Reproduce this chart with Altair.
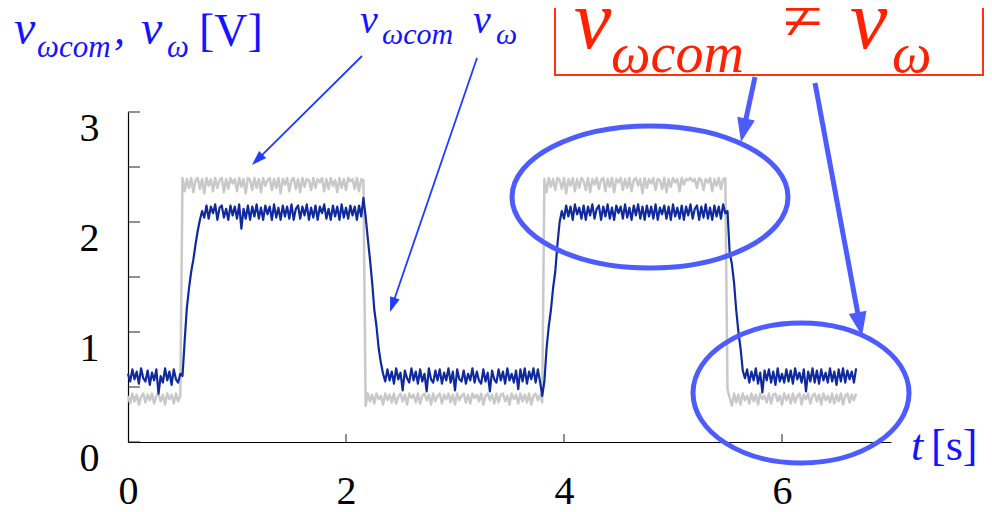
import math
import altair as alt
import pandas as pd

# ---------------- data ----------------
DT = 0.02  # sampling step of the recorded signals [s]

# command voltage v_wcom (gray)
gray_low_1 = [0.42, 0.35, 0.44, 0.37, 0.43, 0.34, 0.41, 0.44, 0.36, 0.43,
              0.38, 0.44, 0.35, 0.42, 0.44, 0.37, 0.43, 0.34, 0.44, 0.39,
              0.43, 0.35, 0.44, 0.37, 0.42]
gray_high_1 = [2.40, 2.28, 2.39, 2.31, 2.40, 2.27, 2.38, 2.40, 2.30, 2.39,
               2.26, 2.40, 2.33, 2.39, 2.28, 2.40, 2.31, 2.38, 2.40, 2.27,
               2.39, 2.30, 2.40, 2.35, 2.39, 2.28, 2.40, 2.32, 2.39, 2.26,
               2.40, 2.38, 2.29, 2.40, 2.31, 2.39, 2.27, 2.40, 2.33, 2.38,
               2.40, 2.29, 2.39, 2.31, 2.40, 2.26, 2.39, 2.34, 2.40, 2.28,
               2.38, 2.40, 2.30, 2.39, 2.27, 2.40, 2.32, 2.39, 2.38, 2.29,
               2.40, 2.31, 2.39, 2.36, 2.40, 2.28, 2.39, 2.30, 2.40, 2.33,
               2.38, 2.27, 2.40, 2.31, 2.39, 2.29, 2.40, 2.37, 2.39, 2.30,
               2.40, 2.28, 2.39, 2.38]
gray_low_2 = [0.33, 0.44, 0.37, 0.43, 0.35, 0.44, 0.39, 0.42, 0.34, 0.44,
              0.38, 0.43, 0.36, 0.44, 0.35, 0.41, 0.44, 0.37, 0.43, 0.34,
              0.44, 0.40, 0.43, 0.36, 0.44, 0.35, 0.42, 0.44, 0.38, 0.43,
              0.34, 0.44, 0.37, 0.42, 0.44, 0.35, 0.43, 0.39, 0.44, 0.36,
              0.43, 0.34, 0.44, 0.38, 0.42, 0.44, 0.36, 0.43, 0.35, 0.44,
              0.40, 0.43, 0.37, 0.44, 0.34, 0.42, 0.44, 0.38, 0.43, 0.35,
              0.44, 0.36, 0.43, 0.44, 0.37, 0.42, 0.34, 0.44, 0.39, 0.43,
              0.35, 0.44, 0.37, 0.43, 0.36, 0.44, 0.34, 0.42, 0.44, 0.38,
              0.43, 0.36]
gray_high_2 = [2.39, 2.27, 2.40, 2.32, 2.39, 2.29, 2.40, 2.38, 2.30, 2.40,
               2.26, 2.39, 2.33, 2.40, 2.28, 2.39, 2.31, 2.40, 2.37, 2.29,
               2.40, 2.27, 2.39, 2.34, 2.40, 2.30, 2.38, 2.40, 2.28, 2.39,
               2.32, 2.40, 2.27, 2.39, 2.36, 2.40, 2.29, 2.39, 2.31, 2.40,
               2.28, 2.38, 2.40, 2.33, 2.39, 2.26, 2.40, 2.31, 2.39, 2.35,
               2.40, 2.29, 2.39, 2.38, 2.30, 2.40, 2.27, 2.39, 2.32, 2.40,
               2.36, 2.39, 2.28, 2.40, 2.34, 2.39, 2.38, 2.40, 2.37, 2.39,
               2.31, 2.40, 2.38, 2.29, 2.39, 2.36, 2.40, 2.28, 2.39, 2.33,
               2.40, 2.30, 2.39, 2.40]
gray_low_3 = [0.48, 0.40, 0.33, 0.44, 0.36, 0.43, 0.34, 0.44, 0.38, 0.42,
              0.35, 0.44, 0.37, 0.43, 0.34, 0.44, 0.39, 0.42, 0.36, 0.44,
              0.35, 0.43, 0.44, 0.37, 0.42, 0.34, 0.44, 0.38, 0.43, 0.35,
              0.44, 0.36, 0.42, 0.44, 0.34, 0.43, 0.39, 0.44, 0.35, 0.42,
              0.44, 0.37, 0.43, 0.34, 0.44, 0.38, 0.42, 0.36, 0.44, 0.35,
              0.43, 0.37, 0.44, 0.34, 0.42, 0.44, 0.36, 0.43, 0.38, 0.44]

# measured voltage v_w (dark blue)
blue_low_1 = [0.62, 0.55, 0.66, 0.57, 0.64, 0.53, 0.67, 0.58, 0.55, 0.65,
              0.52, 0.63, 0.56, 0.66, 0.44, 0.60, 0.54, 0.67, 0.56, 0.64,
              0.52, 0.66, 0.57, 0.54, 0.62]
blue_rise_1 = [0.60, 0.92, 1.22, 1.40, 1.55, 1.66, 1.80, 1.92, 2.02, 2.10]
blue_high_1 = [2.04, 2.15, 2.03, 2.14, 2.08, 2.16, 2.02, 2.13, 2.15, 2.04,
               2.12, 2.02, 2.15, 2.06, 2.14, 2.03, 2.16, 1.94, 2.12, 2.03,
               2.15, 2.02, 2.14, 2.05, 2.16, 2.03, 2.13, 2.02, 2.15, 2.07,
               2.14, 2.02, 2.16, 2.04, 2.13, 2.02, 2.15, 2.05, 2.14, 2.03,
               2.16, 2.02, 2.12, 2.15, 2.03, 2.14, 2.06, 2.16, 2.02, 2.13,
               2.04, 2.15, 2.02, 2.14, 2.08, 2.16, 2.03, 2.12, 2.02, 2.15,
               2.05, 2.14, 2.02, 2.16, 2.04, 2.13, 2.03, 2.15, 2.06, 2.14,
               2.02, 2.15, 2.05, 2.22]
blue_fall_1 = [2.05, 1.85, 1.66, 1.45, 1.20, 1.05, 0.85, 0.72, 0.62]
blue_low_2 = [0.55, 0.66, 0.56, 0.64, 0.53, 0.67, 0.57, 0.63, 0.47, 0.65,
              0.58, 0.54, 0.67, 0.56, 0.64, 0.53, 0.66, 0.55, 0.62, 0.46,
              0.67, 0.57, 0.54, 0.65, 0.56, 0.66, 0.53, 0.63, 0.56, 0.67,
              0.54, 0.64, 0.47, 0.66, 0.57, 0.55, 0.65, 0.53, 0.62, 0.56,
              0.67, 0.54, 0.64, 0.56, 0.53, 0.66, 0.55, 0.63, 0.46, 0.65,
              0.57, 0.54, 0.66, 0.56, 0.64, 0.53, 0.67, 0.56, 0.62, 0.54,
              0.65, 0.48, 0.66, 0.55, 0.67, 0.53, 0.64, 0.57, 0.67, 0.54,
              0.66, 0.55, 0.42]
blue_rise_2 = [0.55, 0.85, 1.05, 1.20, 1.40, 1.55, 1.80, 2.00, 2.10]
blue_high_2 = [2.03, 2.15, 2.05, 2.14, 2.02, 2.16, 2.07, 2.13, 2.03, 2.15,
               2.02, 2.14, 2.06, 2.16, 2.03, 2.12, 2.15, 2.02, 2.14, 2.05,
               2.16, 2.03, 2.13, 2.02, 2.15, 2.08, 2.14, 2.03, 2.16, 2.04,
               2.13, 2.02, 2.15, 2.06, 2.16, 2.03, 2.14, 2.02, 2.15, 2.05,
               2.14, 2.03, 2.16, 2.02, 2.13, 2.07, 2.15, 2.03, 2.14, 2.02,
               2.16, 2.05, 2.13, 2.03, 2.15, 2.02, 2.14, 2.06, 2.16, 2.03,
               2.12, 2.15, 2.02, 2.14, 2.04, 2.16, 2.03, 2.13, 2.02, 2.15,
               2.05, 2.14, 2.03, 2.16, 2.08]
blue_fall_2 = [2.10, 1.72, 1.62, 1.45, 1.20, 1.00, 0.85, 0.65]
blue_low_3 = [0.58, 0.66, 0.54, 0.64, 0.56, 0.67, 0.53, 0.63, 0.45, 0.65,
              0.56, 0.66, 0.54, 0.64, 0.52, 0.67, 0.55, 0.62, 0.54, 0.66,
              0.55, 0.65, 0.53, 0.67, 0.57, 0.63, 0.54, 0.66, 0.46, 0.64,
              0.55, 0.67, 0.54, 0.65, 0.53, 0.66, 0.56, 0.63, 0.54, 0.67,
              0.55, 0.64, 0.52, 0.66, 0.55, 0.67, 0.54, 0.65, 0.57, 0.64,
              0.54, 0.67]

x_tick_labels = [0, 2, 4, 6]
y_tick_labels = [0, 1, 2, 3]
x_minor_ticks = [2, 4, 6]
y_minor_ticks = [0, 0.5, 1, 1.5, 2, 2.5, 3]

gray_values = gray_low_1 + gray_high_1 + gray_low_2 + gray_high_2 + gray_low_3
blue_values = (blue_low_1 + blue_rise_1 + blue_high_1 + blue_fall_1 + blue_low_2
               + blue_rise_2 + blue_high_2 + blue_fall_2 + blue_low_3)

gray_df = pd.DataFrame({"t": [round(i * DT, 2) for i in range(len(gray_values))],
                        "v": gray_values})
blue_df = pd.DataFrame({"t": [round(i * DT, 2) for i in range(len(blue_values))],
                        "v": blue_values})
yt_df = pd.DataFrame({"v": y_minor_ticks})
xt_df = pd.DataFrame({"t": x_minor_ticks})
dummy = pd.DataFrame({"d": [0]})

# ---------------- layout ----------------
OX, OY = 128, 112          # page position of the plot origin
W, H = 763, 330
FONT = "Liberation Serif"
BLUE_TXT = "#1414ff"
RED = "#ff2200"
THICK = "#4d5cff"
THIN = "#1f3cff"


def px(x):
    return x - OX


def py(y):
    return y - OY


def txt(text, x, y, size, color, italic=True):
    return alt.Chart(dummy).mark_text(
        text=text, font=FONT, fontSize=size,
        fontStyle="italic" if italic else "normal",
        color=color, align="left", baseline="alphabetic",
    ).encode(x=alt.value(px(x)), y=alt.value(py(y)))


def arrow(x0, y0, x1, y1, color, width, head_len, head_w):
    dx, dy = x1 - x0, y1 - y0
    L = math.hypot(dx, dy)
    ux, uy = dx / L, dy / L
    bx, by = x1 - ux * head_len * 0.7, y1 - uy * head_len * 0.7
    line = alt.Chart(dummy).mark_rule(color=color, strokeWidth=width).encode(
        x=alt.value(px(x0)), y=alt.value(py(y0)),
        x2=alt.value(px(bx)), y2=alt.value(py(by)))
    w = round(head_w / head_len, 4)
    path = f"M 0 -1 L {w} 1 L {-w} 1 Z"
    ang = math.degrees(math.atan2(dx, -dy)) % 360
    s = head_len / 2
    cx, cy = x1 - ux * s, y1 - uy * s
    head = alt.Chart(dummy).mark_point(
        shape=path, size=head_len ** 2, filled=True, color=color,
        opacity=1, strokeWidth=0, angle=ang,
    ).encode(x=alt.value(px(cx)), y=alt.value(py(cy)))
    return [line, head]


def ellipse(cx, cy, rx, ry, color, width):
    e = ry / rx
    k = 0.5523
    a, b = round(k * e, 4), round(e, 4)
    path = (f"M 1 0 C 1 {a} {k} {b} 0 {b} C {-k} {b} -1 {a} -1 0 "
            f"C -1 {-a} {-k} {-b} 0 {-b} C {k} {-b} 1 {-a} 1 0 Z")
    return alt.Chart(dummy).mark_point(
        shape=path, size=(2 * rx) ** 2, filled=False, color=color,
        strokeWidth=width, opacity=1,
    ).encode(x=alt.value(px(cx)), y=alt.value(py(cy)))


x_axis = alt.Axis(values=x_tick_labels, title=None, ticks=False, tickSize=0,
                  labelPadding=61, labelBaseline="alphabetic", labelFlush=False,
                  labelOverlap=False, labelAngle=0, grid=False, format="d",
                  domain=True, labels=True)
y_axis = alt.Axis(values=y_tick_labels, title=None, ticks=False, tickSize=0,
                  labelPadding=29, labelOffset=28, labelBaseline="alphabetic",
                  labelAlign="right", labelFlush=False, labelOverlap=False,
                  grid=False, format="d", domain=True, labels=True)
x_scale = alt.Scale(domain=[0, 7], nice=False, zero=False)
y_scale = alt.Scale(domain=[0, 3], nice=False, zero=False)


def X():
    return alt.X("t:Q", scale=x_scale, axis=x_axis)


def Y():
    return alt.Y("v:Q", scale=y_scale, axis=y_axis)


gray_line = alt.Chart(gray_df).mark_line(
    color="#c9c9c9", strokeWidth=2.5, strokeJoin="round").encode(x=X(), y=Y())
blue_line = alt.Chart(blue_df).mark_line(
    color="#0e2a9c", strokeWidth=2.2, strokeJoin="round").encode(x=X(), y=Y())

y_ticks = alt.Chart(yt_df).mark_rule(color="#222222", strokeWidth=1).encode(
    y=Y(), x=alt.value(0), x2=alt.value(12))
x_ticks = alt.Chart(xt_df).mark_rule(color="#222222", strokeWidth=1).encode(
    x=X(), y=alt.value(H), y2=alt.value(H - 8))

layers = [gray_line, blue_line, y_ticks, x_ticks]

# axis title (top left)
layers += [
    txt("v", 14, 44, 48, BLUE_TXT),
    txt("ωcom", 37, 57, 31, BLUE_TXT),
    txt(",", 114, 44, 44, BLUE_TXT),
    txt("v", 141, 44, 48, BLUE_TXT),
    txt("ω", 167, 57, 31, BLUE_TXT),
    txt("[V]", 199, 46, 46, BLUE_TXT, italic=False),
]
# series labels
layers += [
    txt("v", 360, 33, 40, BLUE_TXT),
    txt("ωcom", 382, 44, 30, BLUE_TXT),
    txt("v", 473, 33, 40, BLUE_TXT),
    txt("ω", 496, 44, 30, BLUE_TXT),
]
layers += arrow(362, 56, 252, 165, THIN, 1.8, 15, 10)
layers += arrow(477, 58, 390, 312, THIN, 1.8, 15, 10)

# red box
layers.append(alt.Chart(dummy).mark_rect(stroke="#ff3311", strokeWidth=2, fillOpacity=0).encode(
    x=alt.value(px(555)), x2=alt.value(px(983)), y=alt.value(py(-4)), y2=alt.value(py(75))))
layers += [
    txt("v", 574, 48, 84, RED),
    txt("ωcom", 611, 72, 56, RED),
    txt("≠", 783, 40, 72, RED, italic=False),
    txt("v", 850, 48, 84, RED),
    txt("ω", 892, 72, 56, RED),
]

# highlight ellipses and thick arrows
layers.append(ellipse(650, 197, 138, 71, THICK, 5))
layers.append(ellipse(801, 393, 108, 70, THICK, 5))
layers += arrow(755, 77, 741, 142, THICK, 5, 24, 18)
layers += arrow(815, 83, 862, 336, THICK, 5, 24, 18)

# x axis title
layers += [
    txt("t", 911, 460, 44, BLUE_TXT),
    txt("[s]", 931, 460, 44, BLUE_TXT, italic=False),
]

chart = alt.layer(*layers).properties(
    width=W, height=H,
    autosize=alt.AutoSizeParams(type="none"),
    padding={"left": OX - 8, "top": OY - 8, "right": 992 - 8 - OX - W, "bottom": 504 - (OY - 8) - H},
).configure_view(stroke=None).configure_axis(
    labelFont=FONT, labelFontSize=40, labelColor="#000000",
    domainColor="#000000", domainWidth=1.2,
)

chart.save("out.html", embed_options={"renderer": "svg", "actions": False})
